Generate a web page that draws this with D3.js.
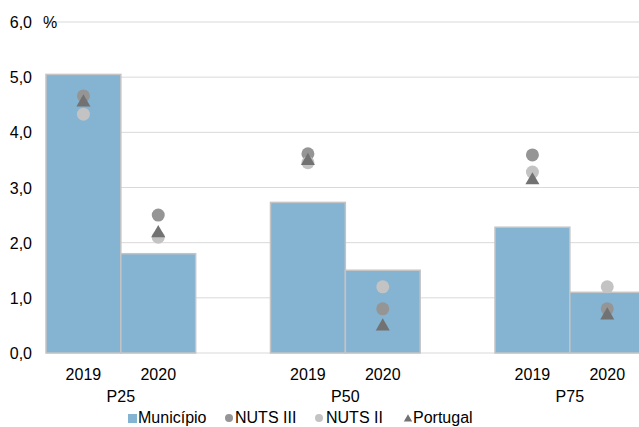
<!DOCTYPE html>
<html><head><meta charset="utf-8">
<script src="https://cdn.jsdelivr.net/npm/d3@7"></script>
<style>body{margin:0;background:#fff}svg{display:block;font-family:"Liberation Sans",Arial,sans-serif}</style>
</head><body><svg id="c" width="639" height="427"></svg>
<script>
const groups = ["P25","P50","P75"];
const years = ["2019","2020"];
const municipio = [[5.05,1.8],[2.73,1.5],[2.28,1.1]];
const nuts3 = [[4.66,2.5],[3.61,0.8],[3.59,0.8]];
const nuts2 = [[4.33,2.1],[3.45,1.2],[3.28,1.2]];
const portugal = [[4.56,2.19],[3.5,0.5],[3.15,0.7]];
const yTicks = [0,1,2,3,4,5,6];
const legendItems = ["Município","NUTS III","NUTS II","Portugal"];

(function(){
const svg = d3.select("#c");
const left = 46, plotTop = 22, bottom = 353;
const bandW = 224.5;
const FS = 16;
const y = d3.scaleLinear().domain([0,6]).range([bottom, plotTop]);
const x0 = d3.scaleBand().domain(groups).range([left, left + bandW*groups.length]).paddingInner(0).paddingOuter(0);
const x1 = d3.scaleBand().domain(years).range([0, bandW*2/3]);

// grid
svg.append("g").selectAll("line").data(yTicks).join("line")
  .attr("x1", left).attr("x2", 639).attr("y1", d=>y(d)).attr("y2", d=>y(d))
  .attr("stroke", "#d9d9d9").attr("stroke-width", 1);

const fmt = d => d.toFixed(1).replace(".", ",");
svg.append("g").selectAll("text").data(yTicks).join("text")
  .attr("x", 32).attr("y", d=>y(d)+6).attr("text-anchor","end")
  .attr("font-size", FS).attr("fill","#000").text(fmt);
svg.append("text").attr("x", 43).attr("y", 28).attr("font-size", FS).text("%");

// bars
const barData = [];
groups.forEach((g,i)=>years.forEach((yr,j)=>barData.push({g,yr,v:municipio[i][j]})));
svg.append("g").selectAll("rect").data(barData).join("rect")
  .attr("x", d=>x0(d.g)+x1(d.yr)).attr("width", x1.bandwidth())
  .attr("y", d=>y(d.v)).attr("height", d=>bottom - y(d.v))
  .attr("fill", "#85b3d2").attr("stroke", "#c4c4c4").attr("stroke-width", 1.5);

const cx = (i,j) => x0(groups[i]) + x1(years[j]) + x1.bandwidth()/2;

function pts(arr){ const r=[]; arr.forEach((row,i)=>row.forEach((v,j)=>r.push({i,j,v}))); return r; }
svg.append("g").selectAll("circle").data(pts(nuts3)).join("circle")
  .attr("cx", d=>cx(d.i,d.j)).attr("cy", d=>y(d.v)).attr("r", 6.5).attr("fill", "#959595");
svg.append("g").selectAll("circle").data(pts(nuts2)).join("circle")
  .attr("cx", d=>cx(d.i,d.j)).attr("cy", d=>y(d.v)).attr("r", 6.5).attr("fill", "#c3c3c3");
const tri = d3.symbol().type(d3.symbolTriangle).size(85);
svg.append("g").selectAll("path").data(pts(portugal)).join("path")
  .attr("transform", d=>`translate(${cx(d.i,d.j)},${y(d.v)+1})`).attr("d", tri).attr("fill", "#727272");

// x labels
groups.forEach((g,i)=>years.forEach((yr,j)=>{
  svg.append("text").attr("x", cx(i,j)).attr("y", 380).attr("text-anchor","middle").attr("font-size",FS).text(yr);
}));
svg.append("g").selectAll("text").data(groups).join("text")
  .attr("x", d=>x0(d)+x1.bandwidth()).attr("y", 402).attr("text-anchor","middle").attr("font-size",FS).text(d=>d);

// legend
const lg = svg.append("g");
const ly = 423;
lg.append("rect").attr("x",128).attr("y",ly-9).attr("width",9).attr("height",9).attr("fill","#85b3d2");
lg.append("text").attr("x",138).attr("y",ly).attr("font-size",FS).text(legendItems[0]);
lg.append("circle").attr("cx",229).attr("cy",ly-5).attr("r",4).attr("fill","#959595");
lg.append("text").attr("x",235).attr("y",ly).attr("font-size",FS).text(legendItems[1]);
lg.append("circle").attr("cx",319).attr("cy",ly-5).attr("r",4).attr("fill","#c3c3c3");
lg.append("text").attr("x",326).attr("y",ly).attr("font-size",FS).text(legendItems[2]);
lg.append("path").attr("transform",`translate(408,${ly-4})`).attr("d", d3.symbol().type(d3.symbolTriangle).size(30)).attr("fill","#727272");
lg.append("text").attr("x",413).attr("y",ly).attr("font-size",FS).text(legendItems[3]);
})();
</script></body></html>
